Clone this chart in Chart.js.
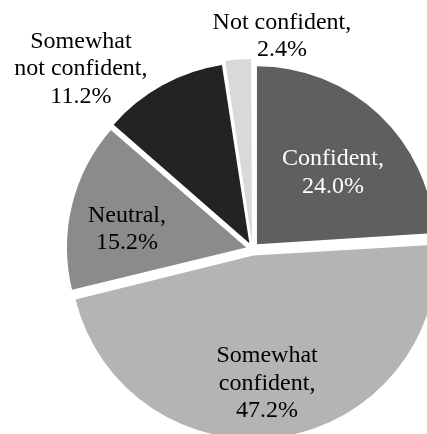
<!DOCTYPE html>
<html lang="en">
  <head>
    <meta charset="UTF-8" />
    <meta name="viewport" content="width=device-width, initial-scale=1.0" />
    <script src="https://cdn.jsdelivr.net/npm/chart.js"></script>
    <title>Confidence</title>
    <style>
      html, body { margin: 0; padding: 0; background: #fff; overflow: hidden; }
    </style>
  </head>
  <body>
    <canvas id="pie" width="427" height="434"></canvas>

    <script>
      const categories = ['Confident', 'Somewhat confident', 'Neutral', 'Somewhat not confident', 'Not confident']
      const shares = [24.0, 47.2, 15.2, 11.2, 2.4]
      // how each label is broken over lines
      const labelLines = [
        ['Confident,'],
        ['Somewhat', 'confident,'],
        ['Neutral,'],
        ['Somewhat', 'not confident,'],
        ['Not confident,'],
      ]

      const fills = ['#5f5f5f', '#b4b4b4', '#8b8b8b', '#232323', '#d9d9d9']
      const textColors = ['#ffffff', '#000000', '#000000', '#000000', '#000000']
      // label anchor: fraction of the radius and a small turn (degrees) off the slice middle
      const labelPlace = [
        { r: 0.593, turn: 2.9 },
        { r: 0.715, turn: 2.5 },
        { r: 0.679, turn: -4.2 },
        { r: 1.37, turn: -14.9 },
        { r: 1.181, turn: 12.5 },
      ]
      const FONT = '24px "Liberation Serif", "Times New Roman", serif'

      const sliceLabels = {
        id: 'sliceLabels',
        afterDatasetsDraw(chart) {
          const ctx = chart.ctx
          const meta = chart.getDatasetMeta(0)
          const lineH = 27.5
          const capHalf = 8
          ctx.save()
          ctx.font = FONT
          ctx.textAlign = 'center'
          ctx.textBaseline = 'alphabetic'
          meta.data.forEach((arc, i) => {
            const p = arc.getProps(['x', 'y', 'startAngle', 'endAngle', 'outerRadius'], true)
            const mid = (p.startAngle + p.endAngle) / 2
            // ArcElement moves a slice by a quarter of its offset option
            const off = (arc.options.offset || 0) / 4
            const a = mid + labelPlace[i].turn * Math.PI / 180
            const cx = p.x + Math.cos(mid) * off + Math.cos(a) * p.outerRadius * labelPlace[i].r
            const cy = p.y + Math.sin(mid) * off + Math.sin(a) * p.outerRadius * labelPlace[i].r
            const lines = labelLines[i].concat([shares[i].toFixed(1) + '%'])
            const first = cy - (lines.length - 1) * lineH / 2 + capHalf
            ctx.fillStyle = textColors[i]
            lines.forEach((txt, k) => ctx.fillText(txt, cx, first + k * lineH))
          })
          ctx.restore()
        },
      }

      const run = async () => {
        try { await document.fonts.load(FONT) } catch (e) {}
        new Chart(document.getElementById('pie').getContext('2d'), {
          type: 'pie',
          data: {
            labels: categories,
            datasets: [
              {
                data: shares,
                backgroundColor: fills,
                borderWidth: 0,
                offset: 26,
                clip: false,
              },
            ],
          },
          options: {
            responsive: false,
            animation: false,
            devicePixelRatio: 1,
            radius: 178,
            layout: { padding: { left: 78, right: 0, top: 64, bottom: 0 } },
            plugins: {
              legend: { display: false },
              tooltip: { enabled: false },
            },
          },
          plugins: [sliceLabels],
        })
      }
      run()
    </script>
  </body>
</html>
